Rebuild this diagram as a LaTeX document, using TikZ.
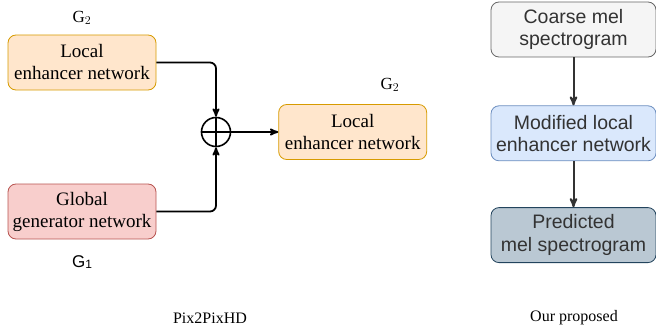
\documentclass[tikz,border=0pt]{standalone}
\usepackage{fontspec}
\setmainfont{Liberation Serif}
\setsansfont{Liberation Sans}
\usepackage{tikz}
\usetikzlibrary{arrows,positioning}
\definecolor{orangefill}{HTML}{FFE6CC}
\definecolor{orangeline}{HTML}{D79B00}
\definecolor{redfill}{HTML}{F8CECC}
\definecolor{redline}{HTML}{B85450}
\definecolor{grayfill}{HTML}{F5F5F5}
\definecolor{grayline}{HTML}{666666}
\definecolor{graytext}{HTML}{333333}
\definecolor{bluefill}{HTML}{DAE8FC}
\definecolor{blueline}{HTML}{6C8EBF}
\definecolor{darkfill}{HTML}{BAC8D3}
\definecolor{darkline}{HTML}{23445D}
\tikzset
{
    netbox/.style = {rectangle, rounded corners=8pt, align=center, minimum width=148pt, minimum height=55pt, line width=0.8pt, inner sep=1pt, font=\fontsize{19}{22}\selectfont},
    localnode/.style = {netbox, fill=orangefill, draw=orangeline},
    globalnode/.style = {netbox, fill=redfill, draw=redline},
    melbox/.style = {netbox, minimum width=165pt, minimum height=55pt, text=graytext, font=\sffamily\fontsize{19.5}{22.5}\selectfont},
    sumnode/.style = {circle, draw=black, line width=1.6pt, minimum size=29pt, inner sep=0pt},
    flow/.style = {->, >=stealth', line width=1.8pt, rounded corners=6pt},
    caption/.style = {font=\fontsize{16}{18}\selectfont}
}
\begin{document}
\begin{tikzpicture}[x=1pt,y=-1pt]
\useasboundingbox (0,0) rectangle (656,329);
% Pix2PixHD
\node[localnode] (local) at (82,62.5) {Local\\enhancer network};
\node[globalnode] (global) at (82,211.5) {Global\\generator network};
\node[sumnode] (sum) at (216,132) {};
\draw[line width=1.6pt] (sum.north) -- (sum.south) (sum.west) -- (sum.east);
\node[localnode, right=47pt of sum] (out) {Local\\enhancer network};
\node[font=\fontsize{17}{19}\selectfont] (gtwo) at (82,18) {G$_2$};
\node[font=\fontsize{17}{19}\selectfont] (gtwoout) at (390,85) {G$_2$};
\node[font=\sffamily\fontsize{17}{19}\selectfont] (gone) at (82,262) {G\raisebox{-1.5pt}{\fontsize{12}{12}\selectfont 1}};
\draw[flow] (local.east) -| (sum.north);
\draw[flow] (global.east) -| (sum.south);
\draw[flow] (sum.east) -- (out.west);
\node[caption] (pixcap) at (210,318) {Pix2PixHD};
% our proposed
\node[melbox, fill=grayfill, draw=grayline] (coarse) at (573.5,29.5) {Coarse mel\\spectrogram};
\node[melbox, fill=bluefill, draw=blueline, below=48pt of coarse] (modified) {Modified local\\enhancer network};
\node[melbox, fill=darkfill, draw=darkline, below=46pt of modified] (predicted) {Predicted\\mel spectrogram};
\draw[flow, draw=graytext, line width=2pt] (coarse.south) -- (modified.north);
\draw[flow, draw=graytext, line width=2pt] (modified.south) -- (predicted.north);
\node[caption] (ourcap) at (574,318) {Our proposed};
\end{tikzpicture}
\end{document}
